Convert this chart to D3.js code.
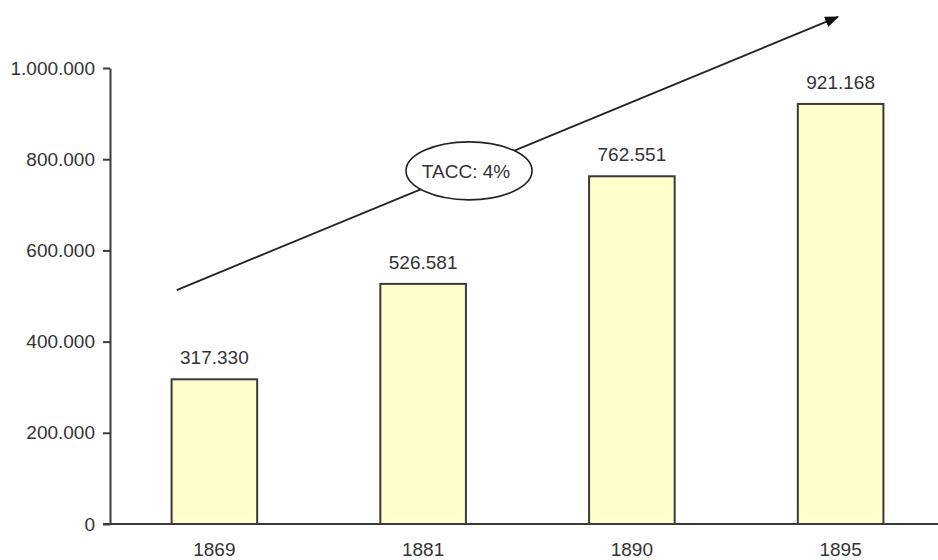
<!DOCTYPE html>
<html>
<head>
<meta charset="utf-8">
<script src="https://cdn.jsdelivr.net/npm/d3@7"></script>
<style>
  html, body { margin: 0; padding: 0; background: #fff; }
  svg { display: block; }
  text { font-family: Arial, "Liberation Sans", sans-serif; fill: #333; }
</style>
</head>
<body>
<svg id="chart" width="938" height="560"></svg>
<script>
// ---- data ----
const years = ["1869", "1881", "1890", "1895"];
const values = [317330, 526581, 762551, 921168];
const yTicks = [0, 200000, 400000, 600000, 800000, 1000000];
const annotationText = "TACC: 4%";
// arrow endpoints in data terms: [category, offset within band fraction, value]
const arrowStart = ["1869", 0.06, 513000];
const arrowEnd = ["1895", 0.47, 1112000];
const labelPosition = 0.442; // fraction along arrow

const svg = d3.select("#chart");

const x = d3.scaleBand().domain(years).range([110, 945])
  .paddingInner(0.59).paddingOuter(0.295);
const y = d3.scaleLinear().domain([0, 1000000]).range([524, 68]);

const loc = d3.formatLocale({ decimal: ",", thousands: ".", grouping: [3], currency: ["", ""] });
const fmt = loc.format(",d");

const FS = 19;

// bars
svg.append("g").selectAll("rect").data(values).join("rect")
  .attr("x", (d, i) => x(years[i]))
  .attr("y", d => y(d))
  .attr("width", x.bandwidth())
  .attr("height", d => y(0) - y(d))
  .attr("fill", "#FFFFCC")
  .attr("stroke", "#3a3a3a")
  .attr("stroke-width", 2);

// value labels
svg.append("g").selectAll("text").data(values).join("text")
  .attr("x", (d, i) => x(years[i]) + x.bandwidth() / 2)
  .attr("y", d => y(d) - 15)
  .attr("text-anchor", "middle")
  .attr("font-size", FS)
  .text(d => fmt(d));

// x axis
const xAxis = svg.append("g").attr("transform", `translate(0,${y(0)})`)
  .call(d3.axisBottom(x).tickSize(0).tickSizeOuter(0).tickPadding(19));
xAxis.select(".domain").attr("d", "M103,0H938").attr("stroke", "#3a3a3a").attr("stroke-width", 2);
xAxis.selectAll("text").attr("font-size", FS).attr("fill", "#333").attr("font-family", "Arial, 'Liberation Sans', sans-serif");

// y axis
const yAxis = svg.append("g").attr("transform", `translate(110,0)`)
  .call(d3.axisLeft(y).tickValues(yTicks).tickFormat(fmt).tickSize(7).tickSizeOuter(0).tickPadding(8));
yAxis.select(".domain").attr("stroke", "#3a3a3a").attr("stroke-width", 2);
yAxis.selectAll(".tick line").attr("stroke", "#3a3a3a").attr("stroke-width", 2);
yAxis.selectAll("text").attr("font-size", FS).attr("fill", "#333").attr("font-family", "Arial, 'Liberation Sans', sans-serif");

// arrow
const defs = svg.append("defs");
defs.append("marker").attr("id", "arrowhead")
  .attr("markerUnits", "userSpaceOnUse")
  .attr("markerWidth", 14).attr("markerHeight", 12)
  .attr("refX", 13).attr("refY", 5.5)
  .attr("orient", "auto")
  .append("path").attr("d", "M0,0L14,5.5L0,11Z").attr("fill", "#111");

const x1 = x(arrowStart[0]) + arrowStart[1] * x.bandwidth(), y1 = y(arrowStart[2]);
const x2 = x(arrowEnd[0]) + arrowEnd[1] * x.bandwidth(), y2 = y(arrowEnd[2]);
svg.append("line")
  .attr("x1", x1).attr("y1", y1).attr("x2", x2).attr("y2", y2)
  .attr("stroke", "#222").attr("stroke-width", 1.8)
  .attr("marker-end", "url(#arrowhead)");

// ellipse label
const cx = x1 + (x2 - x1) * labelPosition, cy = y1 + (y2 - y1) * labelPosition + 1.5;
svg.append("ellipse").attr("cx", cx).attr("cy", cy).attr("rx", 63).attr("ry", 29)
  .attr("fill", "#fff").attr("stroke", "#222").attr("stroke-width", 1.6);
svg.append("text").attr("x", cx - 3).attr("y", cy).attr("dy", "0.36em")
  .attr("text-anchor", "middle").attr("font-size", FS).text(annotationText);
</script>
</body>
</html>
